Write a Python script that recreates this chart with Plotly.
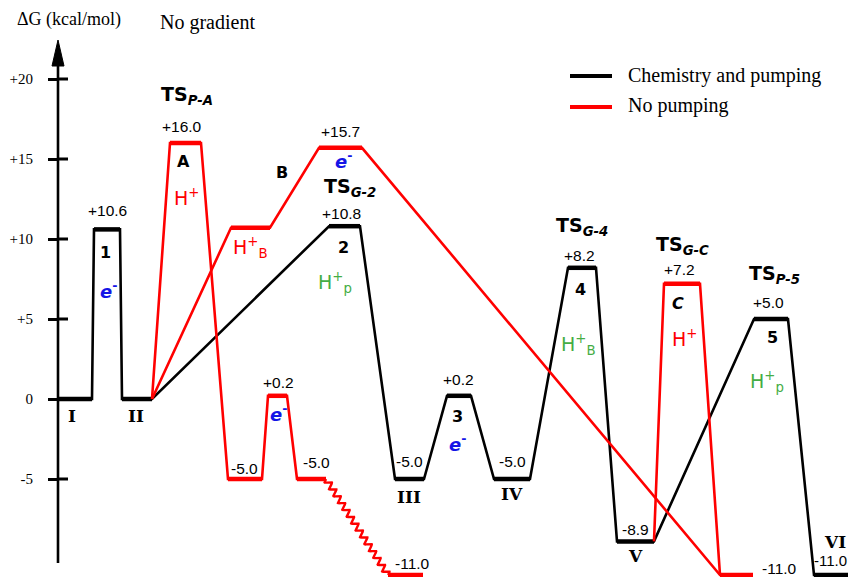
import math
import plotly.graph_objects as go

# ---------------- data ----------------
black_states = ["I", "1", "II", "2", "III", "3", "IV", "4", "V", "5", "VI"]
black_energy = [0.0, 10.6, 0.0, 10.8, -5.0, 0.2, -5.0, 8.2, -8.9, 5.0, -11.0]

redA_states = ["II", "A", "a1", "a2", "a3", "a4"]
redA_energy = [0.0, 16.0, -5.0, 0.2, -5.0, -11.0]
redB_states = ["II", "B", "b1", "end"]
redB_energy = [0.0, 10.7, 15.7, -11.0]
redC_states = ["V", "C", "end"]
redC_energy = [-8.9, 7.2, -11.0]

tick_vals = [20, 15, 10, 5, 0, -5]
tick_text = ["+20", "+15", "+10", "+5", "0", "-5"]

# ---------------- layout (horizontal placement of levels, px) ----------------
black_x = [(58, 92), (94, 120), (122, 152), (329, 360), (395, 424), (447, 471),
           (494, 530), (568, 596), (617, 654), (754, 788), (814, 848)]
redA_x = [(152, 152), (170, 201), (228, 262), (268, 287), (297, 326), (388, 423)]
redB_x = [(152, 152), (231, 270), (319, 362), (720, 753)]
redC_x = [(654, 654), (664, 700), (720, 720)]

W, H = 856, 577
OFF = 8                      # page body margin offset
FW, FH = W - OFF, H - OFF    # figure size
Z0, S = 399.0, 16.0          # page pixel of zero, px per kcal/mol
y_top = (Z0 - OFF) / S
y_bot = (Z0 - H) / S


def pxx(x):
    return (x - OFF) / FW


def pxy(y):
    return 1 - (y - OFF) / FH


BLACK = "#000000"
RED = "#ff0000"
BLUE = "#1414e6"
GREEN = "#45ad45"


def wavy(x0, e0, x1, e1, n_waves=14, amp=3.0, npts=600):
    # decorative squiggle between two data points (computed in pixel space)
    p0 = (x0, Z0 - S * e0)
    p1 = (x1, Z0 - S * e1)
    dx, dy = p1[0] - p0[0], p1[1] - p0[1]
    L = math.hypot(dx, dy)
    nx, ny = -dy / L, dx / L
    xs, ys = [], []
    for i in range(npts + 1):
        t = i / npts
        off = amp * math.sin(2 * math.pi * n_waves * t)
        px = p0[0] + dx * t + nx * off
        py = p0[1] + dy * t + ny * off
        xs.append(px)
        ys.append((Z0 - py) / S)
    return xs, ys


def build(xpos, energy, wavy_after=None):
    cx, cy = [], []
    lx, ly = [], []
    extra = []
    for i, ((x0, x1), e) in enumerate(zip(xpos, energy)):
        if wavy_after is not None and i == wavy_after + 1:
            wx, wy = wavy(cx[-1], cy[-1], x0, e)
            extra.append((wx, wy))
            cx.append(None); cy.append(None)
        cx += [x0, x1]
        cy += [e, e]
        if x1 > x0:
            lx += [x0, x1, None]
            ly += [e, e, None]
    return cx, cy, lx, ly, extra


fig = go.Figure()


def add_path(xpos, energy, color, wavy_after=None):
    cx, cy, lx, ly, extra = build(xpos, energy, wavy_after)
    fig.add_trace(go.Scatter(x=cx, y=cy, mode="lines", showlegend=False,
                             line=dict(color=color, width=2.6), hoverinfo="skip"))
    for wx, wy in extra:
        fig.add_trace(go.Scatter(x=wx, y=wy, mode="lines", showlegend=False,
                                 line=dict(color=color, width=2.4), hoverinfo="skip"))
    fig.add_trace(go.Scatter(x=lx, y=ly, mode="lines", showlegend=False,
                             line=dict(color=color, width=4.5), hoverinfo="skip"))


add_path(black_x, black_energy, BLACK)
add_path(redA_x, redA_energy, RED, wavy_after=4)
add_path(redB_x, redB_energy, RED)
add_path(redC_x, redC_energy, RED)

# ---------------- annotations ----------------
SANS = "Liberation Sans"
COMIC = "DejaVu Sans"
SERIF = "Liberation Serif"
ROMAN = "DejaVu Serif"

anns = []


def ann(text, x, e, shift, size=15.5, color=BLACK, family=SANS, xanchor="center"):
    anns.append(dict(text=text, x=x, y=e, yshift=shift, showarrow=False,
                     xanchor=xanchor, yanchor="middle",
                     font=dict(size=size, color=color, family=family)))


def val(text, x, e, shift, xanchor="center", size=15.5):
    ann(text, x, e, shift, xanchor=xanchor, size=size)


def num(text, x, e, shift):
    ann("<b>" + text + "</b>", x, e, shift, size=16, family=COMIC)


def roman(text, x, e, shift):
    ann("<b>" + text + "</b>", x, e, shift, size=17, family=ROMAN)


def ts(sub, x, e, shift):
    ann("<b>TS<sub><i>" + sub + "</i></sub></b>", x, e, shift, size=19, family=COMIC)


def elec(x, e, shift):
    ann("<b><i>e</i></b><sup><b>-</b></sup>", x, e, shift, size=18, color=BLUE, family=COMIC)


def hplus(x, e, shift, color, sub=None):
    t = "H<sup>+</sup>" + ("<sub>" + sub + "</sub>" if sub else "")
    ann(t, x, e, shift, size=19, color=color, family=COMIC)


# black path
E = dict(zip(black_states, black_energy))
val("+10.6", 107, E["1"], 19)
num("1", 105, E["1"], -23)
elec(108, E["1"], -61)
roman("I", 72, E["I"], -17)
roman("II", 136, E["II"], -17)
ts("G-2", 350, E["2"], 39)
val("+10.8", 341, E["2"], 13)
num("2", 343, E["2"], -21)
hplus(335, E["2"], -56, GREEN, "p")
val("-5.0", 409, E["III"], 18)
roman("III", 409, E["III"], -18)
val("+0.2", 458, E["3"], 16)
num("3", 457, E["3"], -21)
elec(457, E["3"], -47)
val("-5.0", 512, E["IV"], 18)
roman("IV", 512, E["IV"], -15)
ts("G-4", 582, E["4"], 41)
val("+8.2", 579, E["4"], 12)
num("4", 580, E["4"], -22)
hplus(578, E["4"], -77, GREEN, "B")
val("-8.9", 635, E["V"], 12)
roman("V", 635, E["V"], -15)
ts("P-5", 774, E["5"], 45)
val("+5.0", 768, E["5"], 17)
num("5", 772, E["5"], -18)
hplus(767, E["5"], -62, GREEN, "p")
roman("VI", 835, E["VI"], 33)
val("-11.0", 849, E["VI"], 15, xanchor="right", size=15)

# red paths
A = dict(zip(redA_states, redA_energy))
ts("P-A", 187, A["A"], 48)
val("+16.0", 182, A["A"], 17)
num("A", 183, A["A"], -18)
hplus(186, A["A"], -54, RED)
val("-5.0", 244, A["a1"], 11)
val("+0.2", 278, A["a2"], 13)
elec(278, A["a2"], -17)
val("-5.0", 316, A["a3"], 17)
val("-11.0", 412, A["a4"], 12)

B = dict(zip(redB_states, redB_energy))
num("B", 282, B["B"], 55)
hplus(250, B["B"], -20, RED, "B")
val("+15.7", 340, B["b1"], 16)
elec(343, B["b1"], -12)
val("-11.0", 779, B["end"], 7)

C = dict(zip(redC_states, redC_energy))
ts("G-C", 682, C["C"], 38)
val("+7.2", 679, C["C"], 14)
ann("<b><i>C</i></b>", 678, C["C"], -20, size=16, family=COMIC)
hplus(684, C["C"], -54, RED)

# titles
anns.append(dict(text="\u0394G (kcal/mol)", x=pxx(69), y=pxy(20), xref="paper", yref="paper",
                 showarrow=False, xanchor="center", yanchor="middle",
                 font=dict(size=18, family=SERIF, color=BLACK)))
anns.append(dict(text="No gradient", x=pxx(158), y=pxy(22), xref="paper", yref="paper",
                 showarrow=False, xanchor="left", yanchor="middle",
                 font=dict(size=20, family=SERIF, color=BLACK)))

# manual legend
legend_items = [("Chemistry and pumping", BLACK, 76), ("No pumping", RED, 107)]
shapes = []
for label, col, ypx in legend_items:
    shapes.append(dict(type="line", xref="paper", yref="paper", x0=pxx(570), x1=pxx(612),
                       y0=pxy(ypx), y1=pxy(ypx), line=dict(color=col, width=4)))
    anns.append(dict(text=label, x=pxx(626), y=pxy(ypx - 1), xref="paper", yref="paper",
                     showarrow=False, xanchor="left", yanchor="middle",
                     font=dict(size=20, family=SERIF, color=BLACK)))

# axis line, arrow head and inner tick stubs
AX = 58
arrow_tip = (Z0 - 40) / S
arrow_base = (Z0 - 66) / S
shapes.append(dict(type="line", xref="x", yref="y", x0=AX, x1=AX, y0=(Z0 - 563) / S, y1=arrow_base,
                   line=dict(color=BLACK, width=2.6)))
shapes.append(dict(type="path", xref="x", yref="y",
                   path=f"M {AX - 6},{arrow_base} L {AX},{arrow_tip} L {AX + 6},{arrow_base} Z",
                   fillcolor=BLACK, line=dict(color=BLACK, width=1)))
for tv in tick_vals:
    shapes.append(dict(type="line", xref="x", yref="y", x0=AX, x1=AX + 10, y0=tv, y1=tv,
                       line=dict(color=BLACK, width=3)))

fig.update_layout(
    width=FW, height=FH, autosize=False,
    margin=dict(l=0, r=0, t=0, b=0),
    paper_bgcolor="white", plot_bgcolor="white",
    showlegend=False,
    annotations=anns, shapes=shapes,
    xaxis=dict(range=[OFF, W], visible=False, fixedrange=True),
    yaxis=dict(range=[y_bot, y_top], anchor="free", position=pxx(AX),
               showgrid=False, zeroline=False, showline=False,
               tickmode="array", tickvals=tick_vals, ticktext=tick_text,
               ticks="outside", ticklen=10, tickwidth=3, tickcolor=BLACK,
               ticklabelstandoff=12, automargin=False,
               tickfont=dict(family=SERIF, size=15, color=BLACK)),
)

fig.write_html("out.html")
